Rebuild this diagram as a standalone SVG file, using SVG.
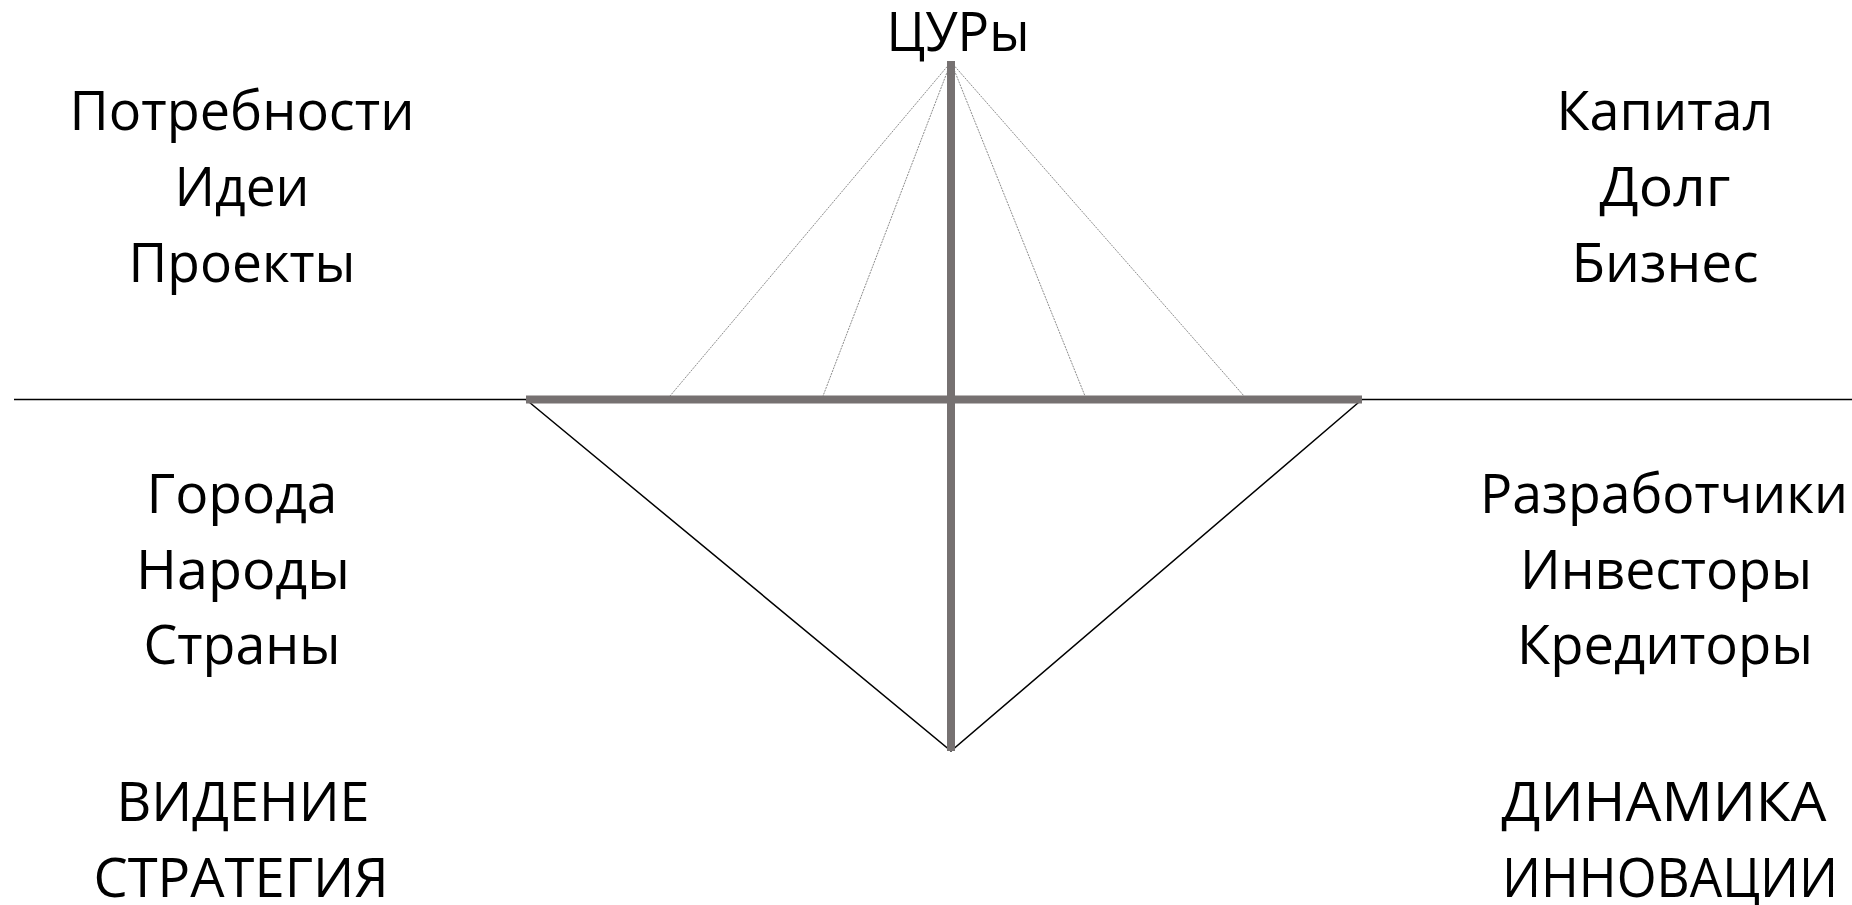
<svg xmlns="http://www.w3.org/2000/svg" width="1852" height="905" viewBox="0 0 1852 905">
<style>
.t{font-family:"Open Sans","Noto Sans","Liberation Sans",sans-serif;font-size:55px;fill:#000;text-anchor:middle}
.thick{stroke:#767171;stroke-width:8;fill:none}
.thin{stroke:#000;stroke-width:1.5;fill:none}
.dot{stroke:#8c8c8c;stroke-width:1;stroke-dasharray:2 1;fill:none}
</style>
<rect width="1852" height="905" fill="#fff"/>
<g id="connectors">
<line class="thin" x1="14" y1="399.5" x2="526" y2="399.5"/>
<line class="thin" x1="1362" y1="399.5" x2="1852" y2="399.5"/>
<polyline class="thin" points="526,399.5 951,751 1362,399.5"/>
<line class="dot" x1="951" y1="62" x2="670" y2="396"/>
<line class="dot" x1="951" y1="62" x2="823" y2="396"/>
<line class="dot" x1="951" y1="62" x2="1085" y2="396"/>
<line class="dot" x1="951" y1="62" x2="1244" y2="396"/>
<line class="thick" x1="526" y1="399.5" x2="1362" y2="399.5"/>
<line class="thick" x1="951" y1="61" x2="951" y2="751"/>
</g>
<g id="node-tsur"><text class="t" x="958" y="51" textLength="143" lengthAdjust="spacingAndGlyphs">ЦУРы</text></g>
<g id="node-top-left">
<text class="t" x="242" y="130" textLength="345" lengthAdjust="spacingAndGlyphs">Потребности</text>
<text class="t" x="242" y="206" textLength="135" lengthAdjust="spacingAndGlyphs">Идеи</text>
<text class="t" x="242" y="282" textLength="227" lengthAdjust="spacingAndGlyphs">Проекты</text>
</g>
<g id="node-top-right">
<text class="t" x="1665" y="130" textLength="217" lengthAdjust="spacingAndGlyphs">Капитал</text>
<text class="t" x="1665" y="206" textLength="131" lengthAdjust="spacingAndGlyphs">Долг</text>
<text class="t" x="1665" y="282" textLength="187" lengthAdjust="spacingAndGlyphs">Бизнес</text>
</g>
<g id="node-bottom-left">
<text class="t" x="242" y="513" textLength="191" lengthAdjust="spacingAndGlyphs">Города</text>
<text class="t" x="243" y="589" textLength="214" lengthAdjust="spacingAndGlyphs">Народы</text>
<text class="t" x="242" y="664" textLength="197" lengthAdjust="spacingAndGlyphs">Страны</text>
</g>
<g id="node-bottom-right">
<text class="t" x="1664" y="513" textLength="368" lengthAdjust="spacingAndGlyphs">Разработчики</text>
<text class="t" x="1666" y="589" textLength="292" lengthAdjust="spacingAndGlyphs">Инвесторы</text>
<text class="t" x="1665" y="664" textLength="296" lengthAdjust="spacingAndGlyphs">Кредиторы</text>
</g>
<g id="node-vision">
<text class="t" x="243" y="821" textLength="253" lengthAdjust="spacingAndGlyphs">ВИДЕНИЕ</text>
<text class="t" x="241" y="897" textLength="295" lengthAdjust="spacingAndGlyphs">СТРАТЕГИЯ</text>
</g>
<g id="node-dynamics">
<text class="t" x="1664" y="821" textLength="325" lengthAdjust="spacingAndGlyphs">ДИНАМИКА</text>
<text class="t" x="1670" y="897" textLength="336" lengthAdjust="spacingAndGlyphs">ИННОВАЦИИ</text>
</g>
</svg>
